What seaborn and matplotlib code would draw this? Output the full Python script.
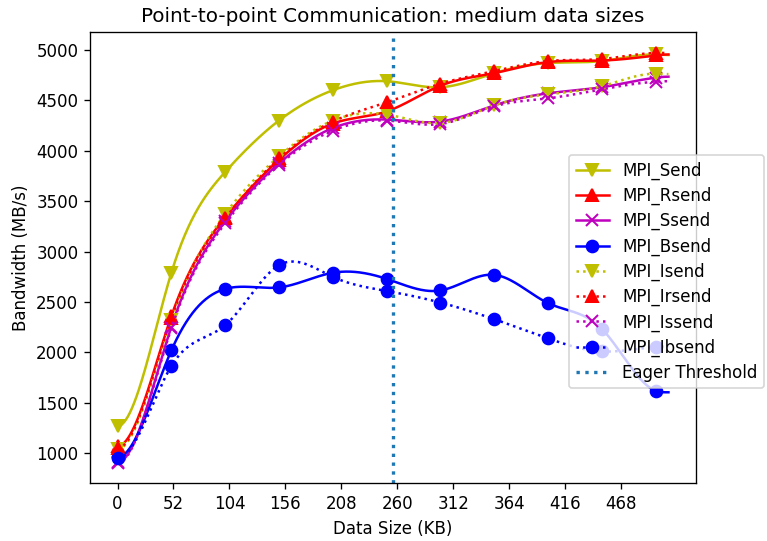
import numpy as np
import pandas as pd
import matplotlib
matplotlib.use("Agg")
import matplotlib.pyplot as plt
from matplotlib.lines import Line2D
import seaborn as sns

# ---- data (KB, MB/s) ----
# measured sizes (with markers) and the end of each drawn curve at 512 KB
sizes = [0, 50, 100, 150, 200, 250, 300, 350, 400, 450, 500]
curve_sizes = [0, 50, 100, 150, 200, 250, 300, 350, 400, 450, 500, 512]
send   = [1270, 2790, 3790, 4300, 4600, 4690, 4630, 4770, 4870, 4890, 4955]
rsend  = [1070, 2360, 3340, 3910, 4270, 4390, 4645, 4770, 4880, 4895, 4945]
ssend  = [910, 2255, 3300, 3875, 4225, 4310, 4290, 4450, 4570, 4630, 4725]
bsend  = [960, 2020, 2630, 2645, 2790, 2730, 2615, 2770, 2490, 2235, 1620]
isend  = [1040, 2320, 3375, 3945, 4300, 4360, 4275, 4450, 4560, 4640, 4765]
irsend = [1050, 2340, 3330, 3925, 4290, 4480, 4665, 4790, 4890, 4910, 4970]
issend = [900, 2240, 3280, 3860, 4200, 4300, 4265, 4440, 4520, 4610, 4685]
ibsend = [950, 1865, 2270, 2865, 2750, 2610, 2495, 2330, 2140, 2010, 2055]
curve_end_values = [4950, 4955, 4735, 1605, 4760, 4970, 4690, 2060]
eager_threshold = 256
xticks = [0, 52, 104, 156, 208, 260, 312, 364, 416, 468]
yticks = [1000, 1500, 2000, 2500, 3000, 3500, 4000, 4500, 5000]

names = ["MPI_Send", "MPI_Rsend", "MPI_Ssend", "MPI_Bsend",
         "MPI_Isend", "MPI_Irsend", "MPI_Issend", "MPI_Ibsend"]
values = [send, rsend, ssend, bsend, isend, irsend, issend, ibsend]
colors = ["#bfbf00", "#ff0000", "#bf00bf", "#0000ff"] * 2
styles = ["-"] * 4 + [":"] * 4
markers = ["v", "^", "x", "o"] * 2


def spline(x, y, xs):
    """Clamped cubic spline (zero end slopes) through (x, y), evaluated at xs."""
    x = np.asarray(x, float); y = np.asarray(y, float)
    n = len(x); h = np.diff(x)
    A = np.zeros((n, n)); b = np.zeros(n)
    for i in range(1, n - 1):
        A[i, i - 1] = h[i - 1]
        A[i, i] = 2 * (h[i - 1] + h[i])
        A[i, i + 1] = h[i]
        b[i] = 6 * ((y[i + 1] - y[i]) / h[i] - (y[i] - y[i - 1]) / h[i - 1])
    A[0, 0] = 2 * h[0]; A[0, 1] = h[0]
    b[0] = 6 * ((y[1] - y[0]) / h[0])
    A[-1, -2] = h[-1]; A[-1, -1] = 2 * h[-1]
    b[-1] = 6 * (-(y[-1] - y[-2]) / h[-1])
    M = np.linalg.solve(A, b)
    idx = np.clip(np.searchsorted(x, xs) - 1, 0, n - 2)
    x0 = x[idx]; x1 = x[idx + 1]; hh = x1 - x0
    return (M[idx] * (x1 - xs) ** 3 / (6 * hh) + M[idx + 1] * (xs - x0) ** 3 / (6 * hh)
            + (y[idx] / hh - M[idx] * hh / 6) * (x1 - xs)
            + (y[idx + 1] / hh - M[idx + 1] * hh / 6) * (xs - x0))


plt.rcParams["font.family"] = ["DejaVu Sans"]
fig = plt.figure(figsize=(767 / 120, 541 / 120), dpi=120)
ax = fig.add_axes([90 / 767, 1 - 483.3 / 541, (696 - 90) / 767, (483.3 - 32.3) / 541])

xs = np.linspace(curve_sizes[0], curve_sizes[-1], 500)
handles = []
for name, vals, endv, color, ls, mk in zip(names, values, curve_end_values,
                                           colors, styles, markers):
    smooth = spline(curve_sizes, list(vals) + [endv], xs)
    sns.lineplot(x=xs, y=smooth, color=color, linestyle=ls, linewidth=1.5,
                 ax=ax, sort=False, estimator=None)
    sns.lineplot(x=sizes, y=vals, color=color, linestyle="none",
                 marker=mk, markersize=7, markeredgecolor=color,
                 markeredgewidth=1.2, ax=ax, sort=False, estimator=None)
    handles.append(Line2D([], [], color=color, linestyle=ls, marker=mk,
                          markersize=7, markeredgecolor=color, markeredgewidth=1.2,
                          linewidth=1.5, label=name))

ax.axvline(eager_threshold, color="#1f77b4", linestyle=":", linewidth=2)
handles.append(Line2D([], [], color="#1f77b4", linestyle=":", linewidth=2,
                      label="Eager Threshold"))

ax.set_xlim(-25.6, 537.6)
ax.set_ylim(702.5, 5175)
ax.set_xticks(xticks)
ax.set_yticks(yticks)
ax.set_xlabel("Data Size (KB)")
ax.set_ylabel("Bandwidth (MB/s)")
ax.set_title("Point-to-point Communication: medium data sizes")

ax.legend(handles=handles, loc="upper left",
          bbox_to_anchor=(569 / 767, 1 - 155 / 541),
          bbox_transform=fig.transFigure, borderaxespad=0, labelspacing=0.42)

fig.savefig("out.png", dpi=120)
